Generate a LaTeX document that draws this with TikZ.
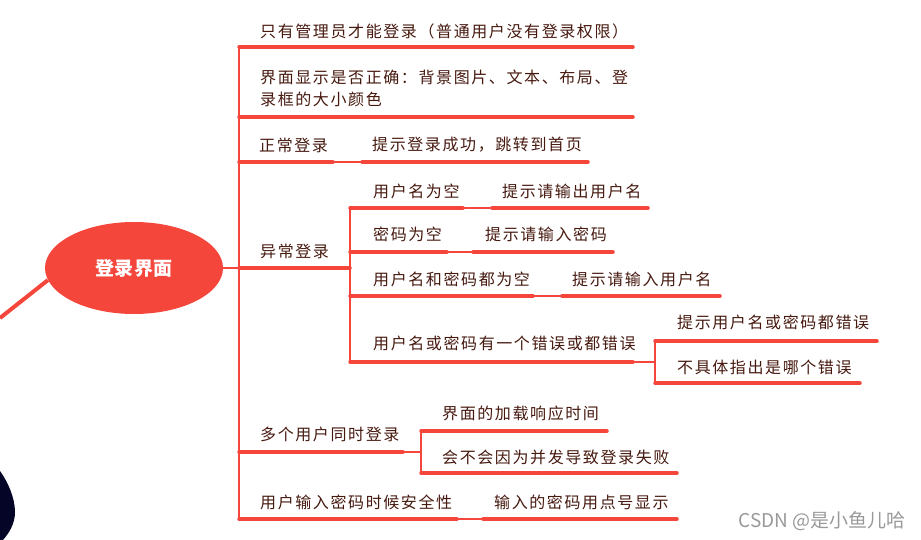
\documentclass[tikz,border=0pt]{standalone}
\usepackage{fontspec}
\usepackage{tikz}
\usetikzlibrary{shapes.geometric, positioning}
\newfontfamily\cjk{Noto Sans CJK SC}[LetterSpace=10]
\newfontfamily\cjkroot{Noto Sans CJK SC}[LetterSpace=3]
\newfontfamily\wmfont{Noto Sans CJK SC}
\definecolor{mapred}{RGB}{245,70,60}
\definecolor{maptext}{RGB}{70,25,15}
\definecolor{blobblue}{RGB}{5,5,40}
\tikzstyle{topic} = [anchor=west, inner sep=0pt, font=\cjk\fontsize{16}{22}\selectfont, text=maptext]
\tikzstyle{central} = [ellipse, minimum width=178pt, minimum height=92pt, inner sep=0pt, fill=mapred, text=white, font=\cjkroot\bfseries\fontsize{19}{22}\selectfont]
\tikzstyle{uline} = [draw=mapred, line width=3.5pt, line cap=round]
\tikzstyle{link} = [draw=mapred, line width=2.5pt]

\begin{document}
\begin{tikzpicture}[x=1pt, y=-1pt]
\useasboundingbox (0,0) rectangle (921,540);

\node (root) [central] at (134,268) {登录界面};
\coordinate (leftend) at (0,318);
\draw [uline, line width=4pt, line cap=butt] (root.188) -- (leftend);

% trunk
\coordinate (trunktop) at (239,47);
\coordinate (trunkmid) at (239,268);
\coordinate (trunkbot) at (239,519);
\draw [link] (trunktop) -- (trunkbot);
\draw [link] (root.east) -- (trunkmid);

% first level
\node (admin) [topic] at (260,31) {只有管理员才能登录（普通用户没有登录权限）};
\node (view) [topic, align=left] at (260,88) {界面显示是否正确：背景图片、文本、布局、登\\录框的大小颜色};
\node (normal) [topic] at (259,145) {正常登录};
\node (normalok) [topic] at (372,145) {提示登录成功，跳转到首页};
\node (abnormal) [topic] at (260,251) {异常登录};
\node (multi) [topic] at (260,434) {多个用户同时登录};
\node (secure) [topic] at (260,502) {用户输入密码时候安全性};
\node (secureok) [topic] at (494,502) {输入的密码用点号显示};

\draw [uline] (trunktop) -- (633,47);
\draw [uline] (239,117) -- (633,117);
\draw [uline] (239,162) -- (333,162);
\draw [link] (333,162) -- (362,162);
\draw [uline] (362,162) -- (588,162);
\draw [uline] (trunkmid) -- (350,268);
\draw [uline] (239,452) -- (403,452);
\draw [link] (403,452) -- (421,452);
\draw [uline] (trunkbot) -- (457,519);
\draw [link] (457,519) -- (483,519);
\draw [uline] (483,519) -- (677,519);

% abnormal login
\node (noname) [topic] at (373,191) {用户名为空};
\node (nonameok) [topic] at (502,191) {提示请输出用户名};
\node (nopwd) [topic] at (373,234) {密码为空};
\node (nopwdok) [topic] at (485,234) {提示请输入密码};
\node (noboth) [topic] at (373,279) {用户名和密码都为空};
\node (nobothok) [topic] at (572,279) {提示请输入用户名};
\node (wrong) [topic] at (373,343) {用户名或密码有一个错误或都错误};
\node (wrongtip) [topic] at (677,322) {提示用户名或密码都错误};
\node (wrongvague) [topic] at (677,367) {不具体指出是哪个错误};

\draw [link] (350,208) -- (350,362);
\draw [uline] (350,208) -- (463,208);
\draw [link] (463,208) -- (492,208);
\draw [uline] (492,208) -- (648,208);
\draw [uline] (350,252) -- (447,252);
\draw [link] (447,252) -- (473,252);
\draw [uline] (473,252) -- (613,252);
\draw [uline] (350,296) -- (533,296);
\draw [link] (533,296) -- (562,296);
\draw [uline] (562,296) -- (720,296);
\draw [uline] (350,362) -- (633,362);
\draw [link] (633,362) -- (655,362);
\draw [link] (655,341) -- (655,383);
\draw [uline] (655,341) -- (877,341);
\draw [uline] (655,383) -- (860,383);

% concurrent users
\node (loadtime) [topic] at (442,413) {界面的加载响应时间};
\node (loadfail) [topic] at (442,457) {会不会因为并发导致登录失败};
\draw [link] (421,431) -- (421,473);
\draw [uline] (421,431) -- (607,431);
\draw [uline] (421,473) -- (677,473);

% corner shape and watermark
\fill [blobblue] (0,471) .. controls (8,482) and (15,498) .. (15,512) .. controls (15,524) and (9,533) .. (3,540) -- (0,540) -- cycle;
\node (mark) [anchor=east, inner sep=0pt, text=black!40, font=\wmfont\fontsize{19}{22}\selectfont] at (906,521) {CSDN @是小鱼儿哈};

\end{tikzpicture}
\end{document}
